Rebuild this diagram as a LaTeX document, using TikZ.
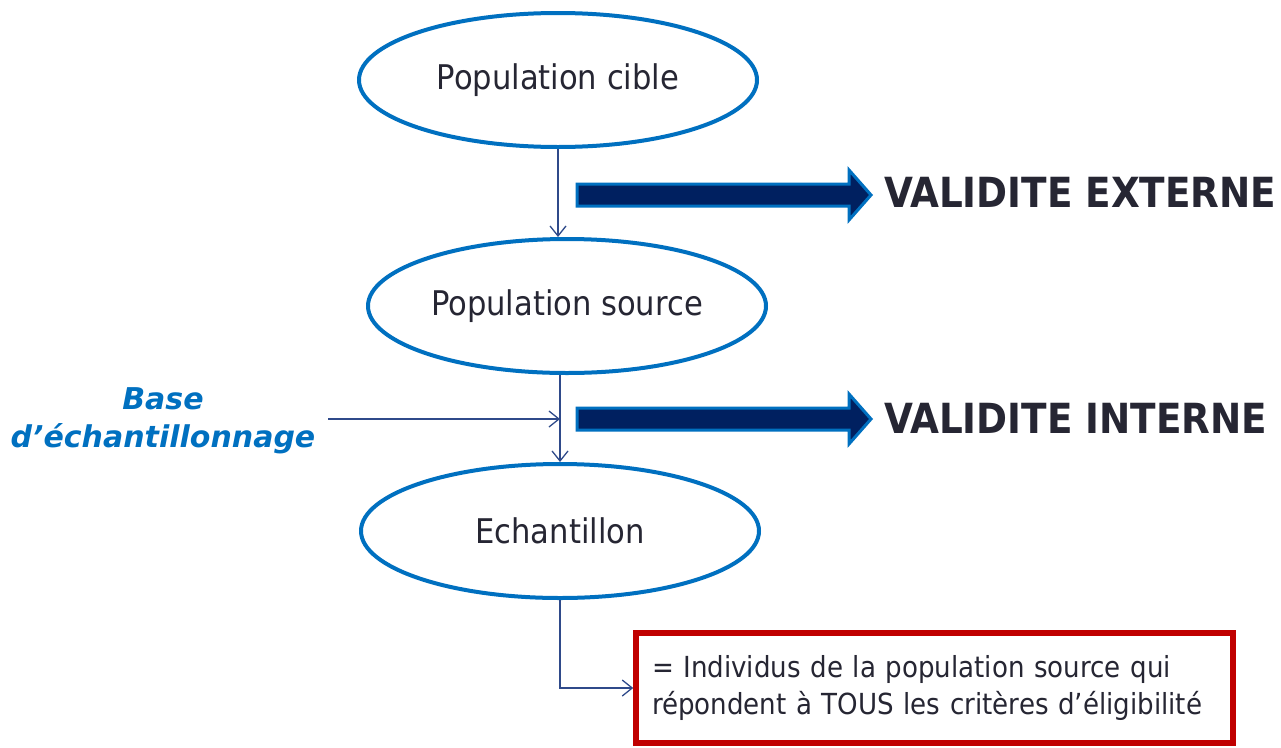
\documentclass[tikz,border=0pt]{standalone}
\usepackage{fontspec}
\setmainfont{DejaVu Sans Condensed}
\newfontfamily\widefont{DejaVu Sans}
\usetikzlibrary{arrows.meta,shapes.geometric}
\definecolor{ellblue}{HTML}{0070C0}
\definecolor{navy}{HTML}{002060}
\definecolor{linecol}{HTML}{2F4A8A}
\definecolor{txt}{HTML}{262633}
\definecolor{boxred}{HTML}{C00000}
\begin{document}
\begin{tikzpicture}[x=1pt,y=-1pt,
 popell/.style={ellipse, draw=ellblue, line width=4pt, minimum width=398pt, minimum height=134pt, inner sep=0pt, font=\fontsize{34}{40}\selectfont, text=txt},
 conn/.style={draw=linecol, line width=1.3pt, -{Straight Barb[length=10pt,width=16pt,line width=1.3pt]}},
 bigarrow/.style={fill=navy, draw=ellblue, line width=3pt, line join=miter},
 valtext/.style={anchor=base west, inner sep=0pt, font=\bfseries\fontsize{41.5}{48}\selectfont, text=txt},
 critbox/.style={draw=boxred, line width=5.5pt, minimum width=597pt, minimum height=110pt, inner xsep=16pt, text width=565pt, align=left, font=\fontsize{29}{37}\selectfont, text=txt},
 baselabel/.style={align=center, font=\widefont\bfseries\itshape\fontsize{30}{38}\selectfont, text=ellblue},
]
\useasboundingbox (0,0) rectangle (1281,747);
\fill[white] (0,0) rectangle (1281,747);

\node[popell] (e1) at (558,80) {Population cible};
\node[popell] (e2) at (567,306) {Population source};
\node[popell] (e3) at (560,531) {Echantillon};

\node[critbox] (box) at (934.5,688) {= Individus de la population source qui\\répondent à TOUS les critères d’éligibilité};

\node[baselabel] (base) at (163,421) {Base\\d’échantillonnage};
\coordinate (bs) at (328,419);

% connectors
\draw[conn] (e1.south) -- (e1.south |- e2.north);
\draw[conn] (e3.north |- e2.south) -- (e3.north);
\draw[conn] (bs) -- (bs -| e3.north);
\draw[conn] (e3.south) -- (e3.south |- box.west) -- (box.west);

% big arrows
\draw[bigarrow] (577,184) -- (849,184) -- (849,170) -- (871,195) -- (849,220) -- (849,206) -- (577,206) -- cycle;
\draw[bigarrow] (577,408) -- (849,408) -- (849,394) -- (871,419) -- (849,444) -- (849,430) -- (577,430) -- cycle;

\node[valtext] (vext) at (884,207) {VALIDITE EXTERNE};
\node[valtext] (vint) at (884,433) {VALIDITE INTERNE};
\end{tikzpicture}
\end{document}
